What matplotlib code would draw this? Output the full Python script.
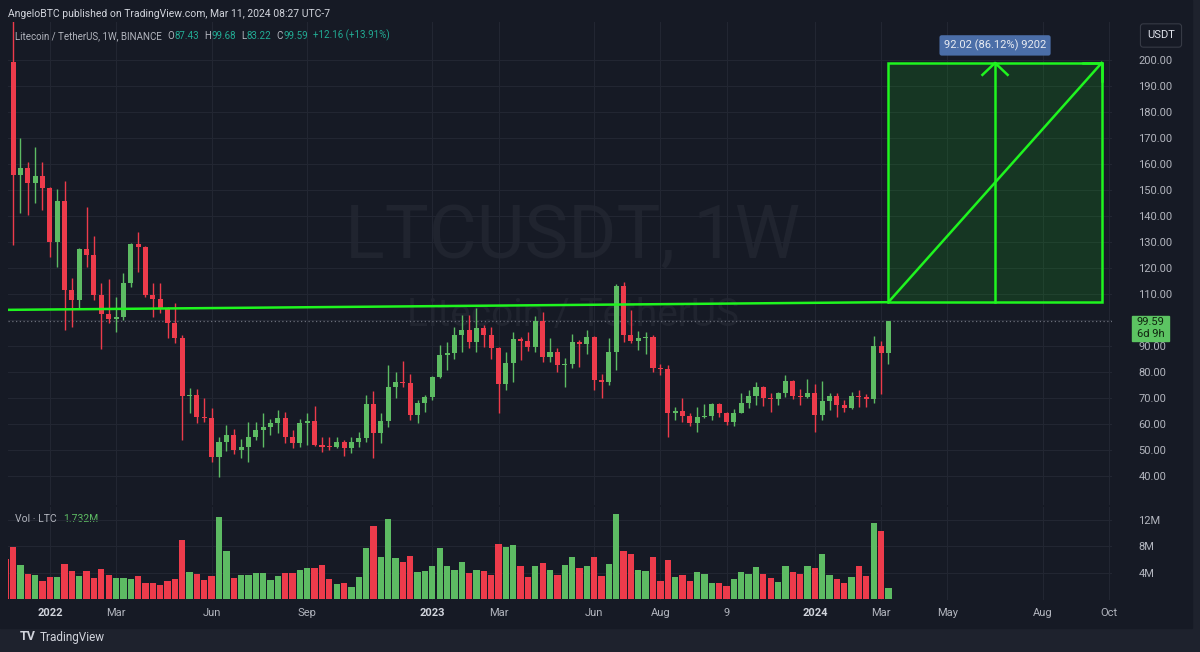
import matplotlib.pyplot as plt
import matplotlib.dates as mdates
from matplotlib.patches import Rectangle
from matplotlib.transforms import blended_transform_factory
import numpy as np
import pandas as pd

# weekly LTC/USDT candles (first one is cut by the left edge)
opens = [225.0, 199.4, 155.8, 158.6, 152.6, 155.4, 150.6, 130.1, 145.9, 111.5,
         107.7, 127.2, 125.0, 109.6, 102.3, 100.3, 101.0, 114.4, 129.2, 128.0,
         109.6, 107.9, 104.1, 98.7, 93.0, 70.8, 71.2, 62.8, 62.4, 47.2,
         53.2, 55.6, 50.0, 51.3, 55.1, 57.7, 59.0, 60.5, 62.2, 54.9,
         52.6, 60.2, 61.3, 51.9, 51.3, 51.0, 53.2, 50.6, 53.2, 54.5,
         67.7, 56.4, 61.3, 74.4, 76.3, 75.6, 63.5, 68.2, 70.3, 78.0,
         86.7, 87.2, 94.2, 96.2, 91.7, 96.8, 94.2, 89.1, 75.3, 83.3,
         92.7, 92.0, 89.7, 99.6, 85.9, 87.6, 82.7, 83.0, 91.4, 90.8,
         93.6, 76.9, 76.3, 87.6, 113.2, 94.2, 91.9, 92.9, 93.5, 81.7,
         81.2, 64.4, 65.0, 63.1, 60.3, 62.8, 63.1, 67.6, 64.4, 60.9,
         64.4, 67.9, 70.8, 74.1, 69.9, 69.5, 71.8, 76.7, 70.8, 70.3,
         72.0, 63.5, 69.0, 70.8, 67.3, 66.0, 70.8, 70.3, 69.5, 90.0,
         87.43]
highs = [232.0, 216.0, 169.9, 160.9, 166.7, 160.9, 151.3, 150.3, 153.6, 116.0,
         127.6, 143.3, 132.3, 114.4, 115.6, 108.7, 118.0, 129.5, 134.0, 128.6,
         114.4, 114.1, 105.1, 106.4, 94.2, 73.7, 73.3, 69.9, 66.0, 55.1,
         59.6, 58.0, 54.1, 60.9, 60.9, 64.1, 61.8, 65.4, 64.7, 57.7,
         61.8, 64.1, 66.9, 55.1, 54.9, 55.1, 53.8, 55.1, 57.1, 71.2,
         72.8, 64.1, 82.7, 80.1, 84.4, 79.2, 69.2, 71.2, 78.5, 90.4,
         91.7, 97.4, 101.9, 101.9, 104.5, 98.1, 97.4, 89.7, 87.6, 95.3,
         93.6, 95.3, 101.7, 103.0, 93.2, 89.4, 85.3, 94.5, 92.3, 96.2,
         94.0, 79.1, 93.2, 113.7, 114.5, 103.8, 95.8, 95.3, 94.2, 83.0,
         82.7, 66.7, 69.9, 64.1, 66.4, 67.7, 67.9, 68.2, 64.7, 65.6,
         72.1, 73.1, 76.3, 74.6, 71.8, 72.4, 78.9, 76.9, 73.3, 77.2,
         75.4, 76.7, 71.8, 71.8, 69.2, 72.4, 73.1, 71.5, 93.8, 92.1,
         99.68]
lows = [196.0, 128.8, 141.0, 140.4, 144.9, 142.3, 124.4, 120.5, 96.2, 97.4,
        104.5, 120.5, 107.7, 89.0, 98.7, 95.5, 100.0, 112.8, 118.6, 109.0,
        101.3, 102.8, 93.0, 91.0, 53.8, 64.1, 60.3, 60.9, 45.5, 39.7,
        49.7, 48.5, 46.8, 45.5, 53.8, 51.3, 55.8, 56.4, 52.6, 50.6,
        51.0, 51.9, 51.5, 49.4, 50.0, 50.6, 47.7, 49.0, 51.3, 53.2,
        46.8, 52.6, 58.7, 69.9, 74.1, 61.5, 60.5, 64.7, 69.2, 77.6,
        80.8, 85.0, 87.6, 89.1, 87.6, 89.7, 85.0, 64.3, 73.1, 76.0,
        84.6, 88.1, 87.6, 83.7, 83.7, 79.9, 74.3, 81.7, 82.0, 86.8,
        73.1, 70.1, 75.0, 80.8, 91.7, 91.0, 88.5, 86.8, 79.9, 78.8,
        55.1, 61.5, 60.9, 59.2, 57.1, 62.2, 61.5, 62.6, 59.6, 59.2,
        64.1, 66.0, 67.3, 66.9, 64.7, 67.3, 70.3, 69.5, 67.3, 69.9,
        57.1, 61.5, 65.4, 62.8, 64.7, 65.6, 66.7, 66.7, 68.2, 71.5,
        83.22]
closes = [199.4, 155.8, 158.6, 152.6, 155.4, 150.6, 130.1, 145.9, 111.5, 107.7,
          127.2, 125.0, 109.6, 102.3, 100.3, 101.0, 114.4, 129.2, 128.0, 109.6,
          107.9, 104.1, 98.7, 93.0, 70.8, 71.2, 62.8, 62.4, 47.2, 53.2,
          55.6, 50.0, 51.3, 55.1, 57.7, 59.0, 60.5, 62.2, 54.9, 52.6,
          60.2, 61.3, 51.9, 51.3, 51.0, 53.2, 50.6, 53.2, 54.5, 67.7,
          56.4, 61.3, 74.4, 76.3, 75.6, 63.5, 68.2, 70.3, 78.0, 86.7,
          87.2, 94.2, 96.2, 91.7, 96.8, 94.2, 89.1, 75.3, 83.3, 92.7,
          92.0, 89.7, 99.6, 85.9, 87.6, 82.7, 83.0, 91.4, 90.8, 93.6,
          76.9, 76.3, 87.6, 113.2, 94.2, 91.9, 92.9, 93.5, 81.7, 81.2,
          64.4, 65.0, 63.1, 60.3, 62.8, 63.1, 67.6, 64.4, 60.9, 64.4,
          67.9, 70.8, 74.1, 69.9, 69.5, 71.8, 76.7, 70.8, 70.3, 72.0,
          63.5, 69.0, 70.8, 67.3, 66.0, 70.8, 70.3, 69.5, 90.0, 87.43,
          99.59]
# volume in millions of LTC
volumes = [6.0, 7.85, 5.1, 3.8, 3.7, 2.8, 3.4, 3.3, 5.3, 4.25,
           3.55, 4.25, 3.15, 4.5, 3.65, 3.25, 3.25, 3.0, 3.55, 2.5,
           2.4, 2.1, 2.8, 3.05, 9.0, 4.1, 3.75, 2.85, 3.55, 12.4,
           7.3, 3.25, 3.65, 3.65, 4.0, 3.9, 2.95, 3.45, 4.0, 3.95,
           4.45, 4.65, 4.75, 5.1, 3.0, 2.35, 2.5, 1.8, 3.3, 7.75,
           11.1, 6.35, 12.1, 6.25, 5.6, 6.45, 4.05, 4.25, 5.05, 7.75,
           5.0, 4.35, 5.6, 3.95, 4.4, 4.25, 3.65, 8.35, 7.95, 8.15,
           5.0, 3.3, 5.0, 5.45, 4.4, 3.65, 5.1, 6.3, 4.75, 5.0,
           6.4, 3.55, 5.3, 12.8, 7.35, 6.85, 4.4, 4.3, 6.4, 2.8,
           5.9, 3.4, 3.65, 2.8, 4.1, 3.8, 2.5, 2.4, 2.0, 3.0,
           4.05, 3.8, 4.85, 3.75, 3.2, 2.6, 5.0, 4.05, 3.8, 5.0,
           4.75, 6.8, 3.65, 3.1, 2.4, 3.3, 5.05, 3.55, 11.5, 10.3,
           1.732]

tick_dates = ['2022-01-03', '2022-03-07', '2022-06-06', '2022-09-05', '2023-01-02',
              '2023-03-06', '2023-06-05', '2023-08-07', '2023-10-09', '2024-01-01',
              '2024-03-04', '2024-05-06', '2024-08-05', '2024-10-07']
tick_labels = ['2022', 'Mar', 'Jun', 'Sep', '2023', 'Mar', 'Jun', 'Aug', '9', '2024',
               'Mar', 'May', 'Aug', 'Oct']
price_ticks = [40, 50, 60, 70, 80, 90, 100, 110, 120, 130, 140, 150, 160, 170, 180, 190, 200]
vol_ticks = [4, 8, 12]

# drawings on the chart
trend_start_date = '2021-11-24'
trend_start_price = 103.9
proj_base = 106.85
proj_top = 198.87
proj_end_date = '2024-09-30'
last_price = 99.59

BG = '#161a25'
GRID = '#222632'
TXT = '#b2b5be'
UP = '#5dbb63'
DOWN = '#ed3b4b'
LIME = '#1ff51f'
TEAL = '#22ab94'

plt.rcParams['font.family'] = ['Roboto', 'DejaVu Sans']

dates = pd.date_range('2021-11-22', periods=len(closes), freq='W-MON')
x = mdates.date2num(dates)
o = np.array(opens)
h = np.array(highs)
l = np.array(lows)
c = np.array(closes)
up = c >= o
colors = np.where(up, UP, DOWN)

fig = plt.figure(figsize=(12, 6.52), dpi=100, facecolor='#1e222d')
fig.add_artist(Rectangle((0, 1 - 628 / 652), 1192 / 1200, 628 / 652,
                         transform=fig.transFigure, color=BG, zorder=-10))

L, W = 8 / 1200, 1104 / 1200
ax = fig.add_axes([L, 1 - 505 / 652, W, 483 / 652])
axv = fig.add_axes([L, 1 - 600 / 652, W, 93 / 652], sharex=ax)
for a in (ax, axv):
    a.set_facecolor('none')
    for s in a.spines.values():
        s.set_visible(False)

# candles
ax.vlines(x, l, h, color=colors, lw=1, zorder=3)
ax.bar(x, np.maximum(np.abs(c - o), 0.4), bottom=np.minimum(o, c), width=4.8,
       color=colors, lw=0, zorder=4)

x_left = mdates.date2num(pd.Timestamp('2021-11-29')) - 4.8
x_right = mdates.date2num(pd.Timestamp('2021-11-29')) + 149.4 * 7
ax.set_xlim(x_left, x_right)
ax.set_ylim(28.85, 214.6)

tick_nums = mdates.date2num(pd.to_datetime(tick_dates))
ax.set_xticks(tick_nums)
ax.yaxis.tick_right()
ax.set_yticks(price_ticks)
ax.set_yticklabels(['' if p == 100 else f'{p:.2f}' for p in price_ticks])
ax.tick_params(axis='y', length=0, pad=19, labelcolor=TXT, labelsize=8)
ax.tick_params(axis='x', length=0, labelbottom=False)
ax.grid(True, color=GRID, lw=0.8, zorder=0)

# watermark
ax.text(0.511, 0.553, 'LTCUSDT, 1W', transform=ax.transAxes, ha='center', va='center',
        fontsize=53, color='#20242f', zorder=1)
ax.text(0.512, 0.393, 'Litecoin / TetherUS', transform=ax.transAxes, ha='center', va='center',
        fontsize=28, color='#20242f', zorder=1)

# last price line
ax.axhline(last_price, color='#6a6e7a', ls=(0, (1, 2)), lw=0.9, zorder=2)

# resistance line and projection box
x_last = x[-1]
x_end = mdates.date2num(pd.Timestamp(proj_end_date))
x_mid = (x_last + x_end) / 2
ax.plot([mdates.date2num(pd.Timestamp(trend_start_date)), x_last],
        [trend_start_price, proj_base], color=LIME, lw=1.8, zorder=5)
ax.add_patch(Rectangle((x_last, proj_base), x_end - x_last, proj_top - proj_base,
                       facecolor='#19e619', alpha=0.14, lw=0, zorder=5))
ax.add_patch(Rectangle((x_last, proj_base), x_end - x_last, proj_top - proj_base,
                       facecolor='none', edgecolor=LIME, lw=1.8, zorder=6))
ax.plot([x_last, x_end], [proj_base, proj_top], color=LIME, lw=1.8, zorder=6)
ax.plot([x_mid, x_mid], [proj_base, proj_top], color=LIME, lw=1.8, zorder=6)
ax.plot([x_mid - 12, x_mid, x_mid + 12], [proj_top - 4.6, proj_top, proj_top - 4.6],
        color=LIME, lw=1.8, zorder=6)
ax.plot([x_end - 17.5, x_end, x_end], [proj_top, proj_top, proj_top - 6.8],
        color=LIME, lw=1.8, zorder=6)
chg = proj_top - proj_base
ax.text(x_mid, 205.6, f'{chg:.2f} ({chg / proj_base * 100:.2f}%) 9202', ha='center', va='center',
        fontsize=8, color='#e8ebf2', zorder=7,
        bbox=dict(boxstyle='round,pad=0.4,rounding_size=0.2', fc='#4b6ea8', ec='none'))

# last price label on the scale
tb = blended_transform_factory(ax.transAxes, ax.transData)
ax.add_patch(Rectangle((1.018, last_price - 7.7), 0.0335, 9.6, transform=tb,
                       color='#5cc462', clip_on=False, zorder=7))
ax.text(1.0348, last_price - 0.4, f'{last_price:.2f}', transform=tb, ha='center', va='center',
        fontsize=8, color='#10230f', clip_on=False, zorder=8)
ax.text(1.0348, last_price - 5.0, '6d 9h', transform=tb, ha='center', va='center',
        fontsize=8, color='#10230f', clip_on=False, zorder=8)

# volume pane
axv.bar(x, volumes, width=6.0, color=colors, lw=0, zorder=3)
axv.set_ylim(-0.1, 13.9)
axv.yaxis.tick_right()
axv.set_yticks(vol_ticks)
axv.set_yticklabels([f'{v}M' for v in vol_ticks])
axv.tick_params(axis='y', length=0, pad=19, labelcolor=TXT, labelsize=8)
axv.set_xticks(tick_nums)
axv.set_xticklabels(tick_labels)
axv.tick_params(axis='x', length=0, pad=6, labelcolor=TXT, labelsize=8)
for lbl in axv.get_xticklabels():
    if lbl.get_text().isdigit() and len(lbl.get_text()) == 4:
        lbl.set_fontweight('bold')
        lbl.set_color('#d1d4dc')
axv.grid(True, color=GRID, lw=0.8, zorder=0)


def row(parts, x0, y0, size):
    # texts in a row, each one placed right after the previous one
    prev = fig.text(x0, y0, parts[0][0], color=parts[0][1], fontsize=size, va='center')
    for s, col, gap in parts[1:]:
        prev = ax.annotate(s, xy=(1, 0), xycoords=prev, xytext=(gap, 0), textcoords='offset points',
                           va='bottom', ha='left', color=col, fontsize=size, annotation_clip=False)
    return prev


# header texts
fig.text(8 / 1200, 1 - 14 / 652, 'AngeloBTC published on TradingView.com, Mar 11, 2024 08:27 UTC-7',
         color='#d1d4dc', fontsize=7.5, va='center')
move = closes[-1] - opens[-1]
row([('Litecoin / TetherUS, 1W, BINANCE', TXT),
     ('O', TXT, 4), (f'{opens[-1]:.2f}', TEAL, 0),
     ('H', TXT, 4), (f'{highs[-1]:.2f}', TEAL, 0),
     ('L', TXT, 4), (f'{lows[-1]:.2f}', TEAL, 0),
     ('C', TXT, 4), (f'{closes[-1]:.2f}', TEAL, 0),
     (f'+{move:.2f} (+{move / opens[-1] * 100:.2f}%)', TEAL, 4)],
    15 / 1200, 1 - 36 / 652, 7)
row([('Vol · LTC', TXT), (f'{volumes[-1]:.3f}M', UP, 5)], 15 / 1200, 1 - 519 / 652, 7.5)

fig.text(1161 / 1200, 1 - 35.5 / 652, 'USDT', color='#e0e3eb', fontsize=8, ha='center', va='center',
         bbox=dict(boxstyle='round,pad=0.6,rounding_size=0.25', fc=BG, ec='#363a45', lw=0.8))

fig.text(20 / 1200, 1 - 637 / 652, 'TV', color='#d1d4dc', fontsize=9, fontweight='bold', va='center')
fig.text(40 / 1200, 1 - 637 / 652, 'TradingView', color='#d1d4dc', fontsize=8.5, va='center')

fig.savefig('out.png', dpi=100, facecolor=fig.get_facecolor())
